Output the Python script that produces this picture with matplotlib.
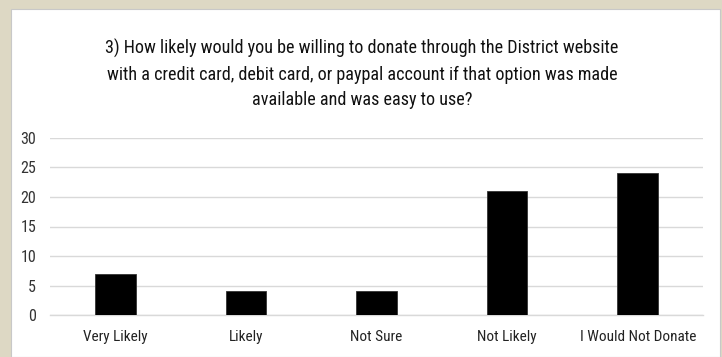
import matplotlib
matplotlib.use("Agg")
import matplotlib.pyplot as plt
from matplotlib.patches import Rectangle
from matplotlib import font_manager

categories = ["Very Likely", "Likely", "Not Sure", "Not Likely", "I Would Not Donate"]
values = [7, 4, 4, 21, 24]
yticks = [0, 5, 10, 15, 20, 25, 30]
title = ("3) How likely would you be willing to donate through the District website\n"
         "with a credit card, debit card, or paypal account if that option was made\n"
         "available and was easy to use?")

names = {f.name for f in font_manager.fontManager.ttflist}
narrow = None
for cand in ["Liberation Sans Narrow", "DejaVu Sans Condensed", "Roboto Condensed", "Open Sans Condensed"]:
    if cand in names:
        narrow = cand
        break
if narrow is None:
    narrow = "Liberation Sans"
    scale = 0.88
else:
    scale = 1.0
fam = [narrow, "DejaVu Sans"]

W, H = 722, 357
fig = plt.figure(figsize=(W / 100, H / 100), dpi=100)
fig.patch.set_facecolor("#DDD8C4")
fig.add_artist(Rectangle((11 / W, 0), (720 - 11) / W, (H - 9) / H,
                         transform=fig.transFigure, facecolor="white",
                         edgecolor="#C8C8C8", linewidth=0.8, zorder=0))

ax = fig.add_axes([50 / W, (H - 315) / H, (703 - 50) / W, (315 - 138) / H])
ax.set_facecolor("none")
x = list(range(len(categories)))
ax.bar(x, values, width=0.31, color="black", edgecolor="#333333", linewidth=0.6, zorder=3)
ax.set_xlim(-0.5, len(categories) - 0.5)
ax.set_ylim(0, 30)
ax.set_yticks(yticks)
ax.set_yticklabels([str(t) for t in yticks], family=fam, fontsize=11.5 * scale, color="#333333")
ax.set_xticks(x)
ax.set_xticklabels(categories, family=fam, fontsize=11 * scale, color="#222222")
ax.yaxis.grid(True, color="#D9D9D9", linewidth=1, zorder=0)
ax.tick_params(axis="both", length=0)
ax.tick_params(axis="y", pad=10)
ax.tick_params(axis="x", pad=11)
for s in ["top", "right", "left"]:
    ax.spines[s].set_visible(False)
ax.spines["bottom"].set_color("#D9D9D9")
ax.spines["bottom"].set_linewidth(1)

fig.text(362 / W, 1 - 74 / H, title, ha="center", va="center", family=fam,
         fontsize=13.1 * scale, color="#111111", linespacing=1.55)

fig.savefig("out.png", dpi=100, facecolor=fig.get_facecolor())
